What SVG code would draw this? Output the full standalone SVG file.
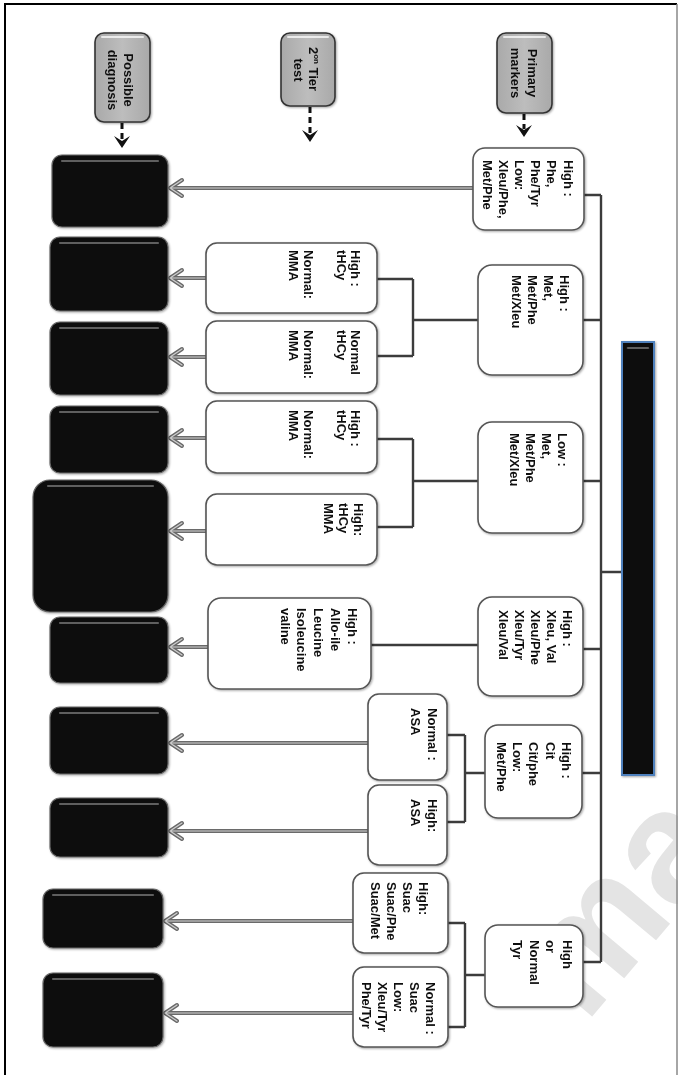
<svg xmlns="http://www.w3.org/2000/svg" width="678" height="1075" viewBox="0 0 678 1075">
<defs>
<style>
.t{font-family:"Liberation Sans",Arial,sans-serif;font-weight:bold;font-size:13px;fill:#111}
.wm{font-family:"Liberation Sans",Arial,sans-serif;font-weight:bold;font-size:160px;fill:#e4e4e4}
.node{fill:#fff;stroke:#555;stroke-width:1.6}
.dx{fill:#111;stroke:#666;stroke-width:1.2}
.hd{fill:url(#gGrey);stroke:#333;stroke-width:1.6}
.con{fill:none;stroke:#3c3c3c;stroke-width:2.4}
.ao{fill:none;stroke:#6a6a6a;stroke-width:4;stroke-linecap:round;stroke-linejoin:round}
.ai{fill:none;stroke:#cfcfcf;stroke-width:1.2;stroke-linecap:round;stroke-linejoin:round}
.dash{fill:none;stroke:#111;stroke-width:3;stroke-dasharray:6 4}
.head{fill:#111}
.gl{fill:none;stroke:#5e5e5e;stroke-width:2.2;stroke-linecap:round}
.hl{fill:none;stroke:#f4f4f4;stroke-width:2;stroke-linecap:round;opacity:0.85}
</style>
<linearGradient id="gGrey" x1="0" y1="0" x2="1" y2="0">
<stop offset="0" stop-color="#a9a9a9"/>
<stop offset="0.5" stop-color="#bdbdbd"/>
<stop offset="1" stop-color="#a9a9a9"/>
</linearGradient>
<filter id="sh" x="-10%" y="-10%" width="125%" height="125%">
<feDropShadow dx="1" dy="1" stdDeviation="1.2" flood-color="#000" flood-opacity="0.35"/>
</filter>
<g id="arrowGeom">
<path d="M473,188 H170 M182,180 L170,188 L182,196"/>
<path d="M206,278 H170 M182,270 L170,278 L182,286"/>
<path d="M206,357 H170 M182,349 L170,357 L182,365"/>
<path d="M206,438 H170 M182,430 L170,438 L182,446"/>
<path d="M206,531 H170 M182,523 L170,531 L182,539"/>
<path d="M208,647 H170 M182,639 L170,647 L182,655"/>
<path d="M368,743 H170 M182,735 L170,743 L182,751"/>
<path d="M368,831 H170 M182,823 L170,831 L182,839"/>
<path d="M353,921 H165 M177,913 L165,921 L177,929"/>
<path d="M353,1013 H165 M177,1005 L165,1013 L177,1021"/>
</g>
</defs>
<rect width="678" height="1075" fill="#fff"/>
<text class="wm" transform="translate(585,1025) rotate(-50)">ma</text>
<path d="M5,1075 V4 H677" fill="none" stroke="#000" stroke-width="2"/>
<path d="M677,4 V1075" fill="none" stroke="#888" stroke-width="1.5"/>

<g id="connectors">
<path class="con" d="M601,195 V962"/>
<path class="con" d="M584,195 H601 M583,320 H601 M583,481 H601 M583,649 H601 M582,773 H601 M583,962 H601 M601,572 H622"/>
<path class="con" d="M478,320 H413 M413,279 V356 M413,279 H377 M413,356 H377"/>
<path class="con" d="M478,481 H413 M413,439 V527 M413,439 H377 M413,527 H377"/>
<path class="con" d="M478,645 H371"/>
<path class="con" d="M485,773 H465 M465,735 V822 M465,735 H447 M465,822 H447"/>
<path class="con" d="M485,975 H465 M465,923 V1027 M465,923 H448 M465,1027 H448"/>
<use href="#arrowGeom" class="ao"/>
<use href="#arrowGeom" class="ai"/>
<path class="dash" d="M122,123 V140"/>
<path class="head" d="M114,136 L122,148 L130,136 L122,141 Z"/>
<path class="dash" d="M310,107 V134"/>
<path class="head" d="M302,130 L310,142 L318,130 L310,135 Z"/>
<path class="dash" d="M524,114 V129"/>
<path class="head" d="M516,125 L524,137 L532,125 L524,130 Z"/>
</g>

<g id="hdr-diagnosis" filter="url(#sh)">
<rect class="hd" x="95" y="33" width="55" height="89" rx="9"/>
<path class="hl" d="M102,37 H143"/>
<text class="t" text-anchor="middle" transform="translate(123.5,80) rotate(90)">Possible</text>
<text class="t" text-anchor="middle" transform="translate(107.5,80) rotate(90)">diagnosis</text>
</g>
<g id="hdr-tier" filter="url(#sh)">
<rect class="hd" x="281" y="33" width="54" height="73" rx="9"/>
<path class="hl" d="M288,37 H328"/>
<text class="t" text-anchor="middle" transform="translate(308.5,69) rotate(90)">2<tspan font-size="8" dy="-5">on</tspan><tspan dy="5"> Tier</tspan></text>
<text class="t" text-anchor="middle" transform="translate(293.5,70) rotate(90)">test</text>
</g>
<g id="hdr-primary" filter="url(#sh)">
<rect class="hd" x="497" y="33" width="55" height="80" rx="9"/>
<path class="hl" d="M504,37 H545"/>
<text class="t" text-anchor="middle" transform="translate(527.5,73) rotate(90)">Primary</text>
<text class="t" text-anchor="middle" transform="translate(510.5,73) rotate(90)">markers</text>
</g>

<g id="bar" filter="url(#sh)">
<rect x="622" y="342" width="32" height="433" fill="#111" stroke="#4f81bd" stroke-width="2"/>
<path class="gl" d="M628,348 H648"/>
</g>

<g id="n1" filter="url(#sh)">
<rect class="node" x="473" y="148" width="111" height="82" rx="12"/>
<text class="t" transform="translate(563.5,160) rotate(90)"><tspan x="0" y="0">High :</tspan><tspan x="0" dy="16.2">Phe,</tspan><tspan x="0" dy="16.2">Phe/Tyr</tspan><tspan x="0" dy="16.2">Low:</tspan><tspan x="0" dy="16.2">Xleu/Phe,</tspan><tspan x="0" dy="16.2">Met/Phe</tspan></text>
</g>
<g id="n2" filter="url(#sh)">
<rect class="node" x="478" y="265" width="105" height="110" rx="14"/>
<text class="t" transform="translate(560,275) rotate(90)"><tspan x="0" y="0">High :</tspan><tspan x="0" dy="16">Met,</tspan><tspan x="0" dy="16">Met/Phe</tspan><tspan x="0" dy="16">Met/Xleu</tspan></text>
</g>
<g id="n3" filter="url(#sh)">
<rect class="node" x="478" y="422" width="105" height="111" rx="14"/>
<text class="t" transform="translate(558,433) rotate(90)"><tspan x="0" y="0">Low :</tspan><tspan x="0" dy="16">Met,</tspan><tspan x="0" dy="16">Met/Phe</tspan><tspan x="0" dy="16">Met/Xleu</tspan></text>
</g>
<g id="n4" filter="url(#sh)">
<rect class="node" x="478" y="597" width="105" height="99" rx="14"/>
<text class="t" transform="translate(563,610) rotate(90)"><tspan x="0" y="0">High :</tspan><tspan x="0" dy="16">Xleu, Val</tspan><tspan x="0" dy="16">Xleu/Phe</tspan><tspan x="0" dy="16">Xleu/Tyr</tspan><tspan x="0" dy="16">Xleu/Val</tspan></text>
</g>
<g id="n5" filter="url(#sh)">
<rect class="node" x="485" y="725" width="97" height="93" rx="13"/>
<text class="t" transform="translate(562,742) rotate(90)"><tspan x="0" y="0">High :</tspan><tspan x="0" dy="16.3">Cit</tspan><tspan x="0" dy="16.3">Cit/phe</tspan><tspan x="0" dy="16.3">Low:</tspan><tspan x="0" dy="16.3">Met/Phe</tspan></text>
</g>
<g id="n6" filter="url(#sh)">
<rect class="node" x="485" y="925" width="98" height="82" rx="13"/>
<text class="t" transform="translate(563,940) rotate(90)"><tspan x="0" y="0">High</tspan><tspan x="0" dy="16.7">or</tspan><tspan x="0" dy="16.7">Normal</tspan><tspan x="0" dy="16.7">Tyr</tspan></text>
</g>

<g id="t1" filter="url(#sh)">
<rect class="node" x="206" y="243" width="171" height="70" rx="11"/>
<text class="t" transform="translate(351,250) rotate(90)"><tspan x="0" y="0">High :</tspan><tspan x="0" dy="14">tHCy</tspan><tspan x="0" dy="33">Normal:</tspan><tspan x="0" dy="15">MMA</tspan></text>
</g>
<g id="t2" filter="url(#sh)">
<rect class="node" x="206" y="321" width="171" height="72" rx="11"/>
<text class="t" transform="translate(351,330) rotate(90)"><tspan x="0" y="0">Normal</tspan><tspan x="0" dy="14">tHCy</tspan><tspan x="0" dy="33">Normal:</tspan><tspan x="0" dy="15">MMA</tspan></text>
</g>
<g id="t3" filter="url(#sh)">
<rect class="node" x="206" y="401" width="171" height="72" rx="11"/>
<text class="t" transform="translate(351,410) rotate(90)"><tspan x="0" y="0">High :</tspan><tspan x="0" dy="14">tHCy</tspan><tspan x="0" dy="33">Normal:</tspan><tspan x="0" dy="15">MMA</tspan></text>
</g>
<g id="t4" filter="url(#sh)">
<rect class="node" x="206" y="494" width="171" height="71" rx="11"/>
<text class="t" transform="translate(354,503) rotate(90)"><tspan x="0" y="0">High:</tspan><tspan x="0" dy="15">tHCy</tspan><tspan x="0" dy="15">MMA</tspan></text>
</g>
<g id="t5" filter="url(#sh)">
<rect class="node" x="208" y="598" width="163" height="91" rx="13"/>
<text class="t" transform="translate(347.5,608) rotate(90)"><tspan x="0" y="0">High :</tspan><tspan x="0" dy="16.7">Allo-ile</tspan><tspan x="0" dy="16.7">Leucine</tspan><tspan x="0" dy="16.7">Isoleucine</tspan><tspan x="0" dy="16.7">valine</tspan></text>
</g>
<g id="a1" filter="url(#sh)">
<rect class="node" x="368" y="694" width="79" height="86" rx="11"/>
<text class="t" transform="translate(427.5,708) rotate(90)"><tspan x="0" y="0">Normal :</tspan><tspan x="0" dy="17">ASA</tspan></text>
</g>
<g id="a2" filter="url(#sh)">
<rect class="node" x="368" y="785" width="79" height="80" rx="11"/>
<text class="t" transform="translate(427.5,799) rotate(90)"><tspan x="0" y="0">High:</tspan><tspan x="0" dy="17">ASA</tspan></text>
</g>
<g id="s1" filter="url(#sh)">
<rect class="node" x="353" y="873" width="95" height="80" rx="11"/>
<text class="t" transform="translate(418.5,882) rotate(90)"><tspan x="0" y="0">High:</tspan><tspan x="0" dy="16">Suac</tspan><tspan x="0" dy="16">Suac/Phe</tspan><tspan x="0" dy="16">Suac/Met</tspan></text>
</g>
<g id="s2" filter="url(#sh)">
<rect class="node" x="353" y="967" width="95" height="80" rx="11"/>
<text class="t" transform="translate(425.5,982) rotate(90)"><tspan x="0" y="0">Normal :</tspan><tspan x="0" dy="16">Suac</tspan><tspan x="0" dy="16">Low:</tspan><tspan x="0" dy="16">Xleu/Tyr</tspan><tspan x="0" dy="16">Phe/Tyr</tspan></text>
</g>

<g id="d1" filter="url(#sh)"><rect class="dx" x="52" y="155" width="116" height="72" rx="10"/><path class="gl" d="M62,161 H158"/></g>
<g id="d2" filter="url(#sh)"><rect class="dx" x="50" y="237" width="118" height="74" rx="10"/><path class="gl" d="M60,243 H158"/></g>
<g id="d3" filter="url(#sh)"><rect class="dx" x="50" y="322" width="118" height="73" rx="10"/><path class="gl" d="M60,328 H158"/></g>
<g id="d4" filter="url(#sh)"><rect class="dx" x="50" y="406" width="118" height="67" rx="10"/><path class="gl" d="M60,412 H158"/></g>
<g id="d5" filter="url(#sh)"><rect class="dx" x="33" y="480" width="135" height="132" rx="17"/><path class="gl" d="M48,486 H153"/></g>
<g id="d6" filter="url(#sh)"><rect class="dx" x="50" y="617" width="118" height="66" rx="10"/><path class="gl" d="M60,623 H158"/></g>
<g id="d7" filter="url(#sh)"><rect class="dx" x="50" y="707" width="118" height="67" rx="10"/><path class="gl" d="M60,713 H158"/></g>
<g id="d8" filter="url(#sh)"><rect class="dx" x="50" y="798" width="118" height="59" rx="10"/><path class="gl" d="M60,804 H158"/></g>
<g id="d9" filter="url(#sh)"><rect class="dx" x="43" y="889" width="120" height="59" rx="10"/><path class="gl" d="M53,895 H153"/></g>
<g id="d10" filter="url(#sh)"><rect class="dx" x="43" y="973" width="120" height="74" rx="10"/><path class="gl" d="M53,979 H153"/></g>
</svg>
